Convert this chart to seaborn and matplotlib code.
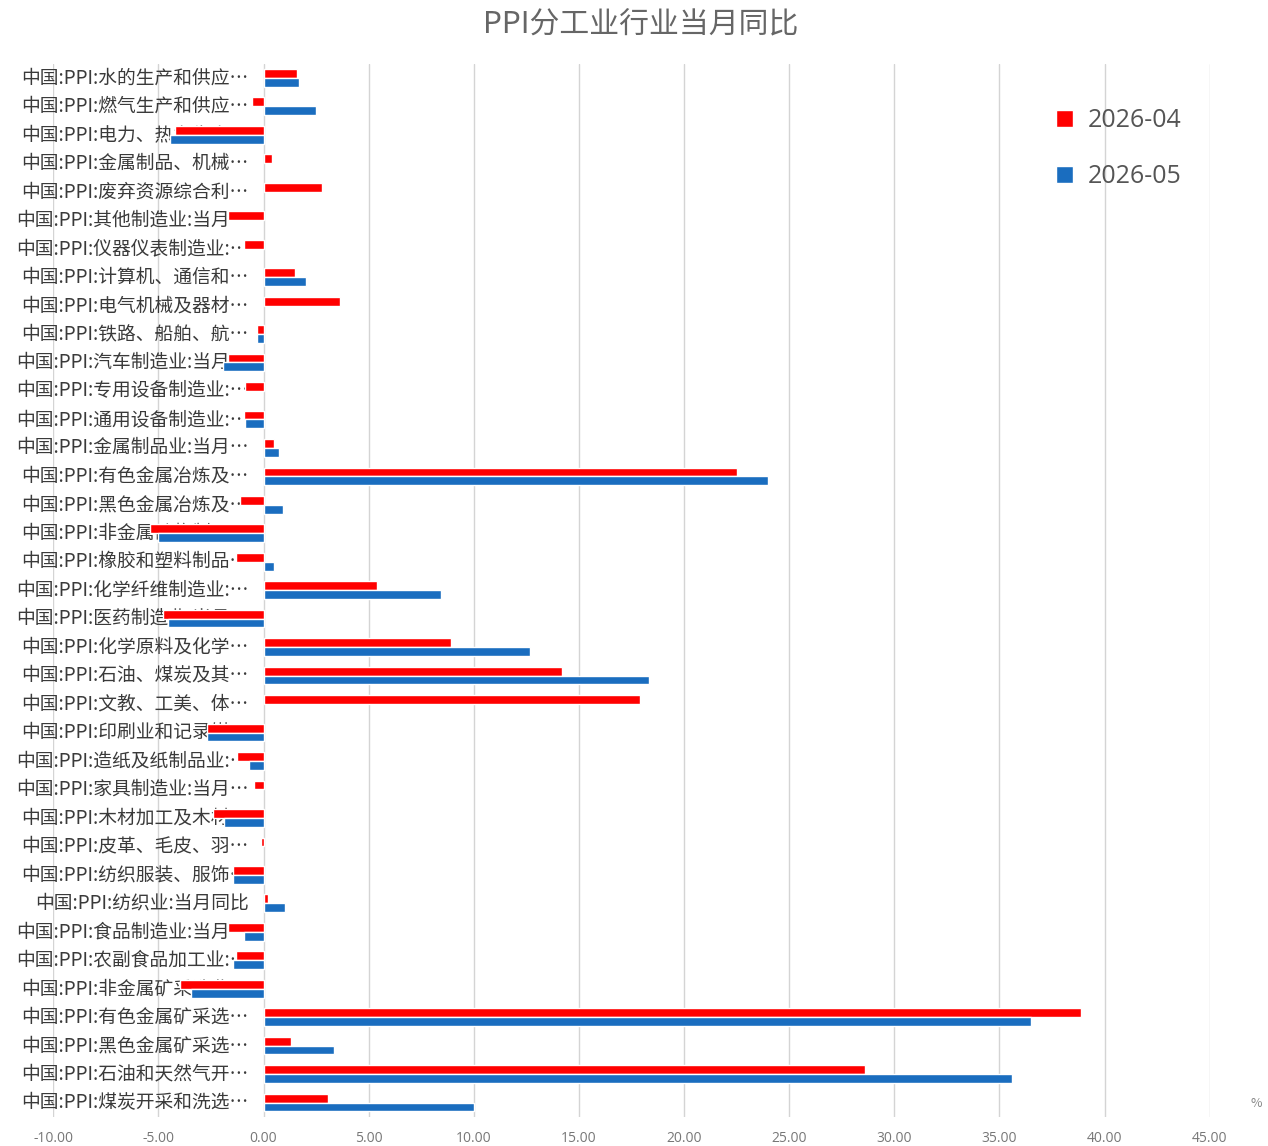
import numpy as np
import pandas as pd
import matplotlib
matplotlib.use("Agg")
import matplotlib.pyplot as plt
import seaborn as sns
from matplotlib.ticker import FormatStrFormatter, MultipleLocator

categories = [
    "中国:PPI:水的生产和供应…",
    "中国:PPI:燃气生产和供应…",
    "中国:PPI:电力、热力生产…",
    "中国:PPI:金属制品、机械…",
    "中国:PPI:废弃资源综合利…",
    "中国:PPI:其他制造业:当月…",
    "中国:PPI:仪器仪表制造业:…",
    "中国:PPI:计算机、通信和…",
    "中国:PPI:电气机械及器材…",
    "中国:PPI:铁路、船舶、航…",
    "中国:PPI:汽车制造业:当月…",
    "中国:PPI:专用设备制造业:…",
    "中国:PPI:通用设备制造业:…",
    "中国:PPI:金属制品业:当月…",
    "中国:PPI:有色金属冶炼及…",
    "中国:PPI:黑色金属冶炼及…",
    "中国:PPI:非金属矿物制品…",
    "中国:PPI:橡胶和塑料制品…",
    "中国:PPI:化学纤维制造业:…",
    "中国:PPI:医药制造业:当月…",
    "中国:PPI:化学原料及化学…",
    "中国:PPI:石油、煤炭及其…",
    "中国:PPI:文教、工美、体…",
    "中国:PPI:印刷业和记录媒…",
    "中国:PPI:造纸及纸制品业:…",
    "中国:PPI:家具制造业:当月…",
    "中国:PPI:木材加工及木材…",
    "中国:PPI:皮革、毛皮、羽…",
    "中国:PPI:纺织服装、服饰…",
    "中国:PPI:纺织业:当月同比",
    "中国:PPI:食品制造业:当月…",
    "中国:PPI:农副食品加工业:…",
    "中国:PPI:非金属矿采选业…",
    "中国:PPI:有色金属矿采选…",
    "中国:PPI:黑色金属矿采选…",
    "中国:PPI:石油和天然气开…",
    "中国:PPI:煤炭开采和洗选…",
]

series_names = ["2026-04", "2026-05"]

values_2026_04 = [
    1.57, -0.57, -4.2, 0.38, 2.8, -1.67, -0.95, 1.48, 3.62, -0.33,
    -1.7, -0.86, -0.95, 0.48, 22.5, -1.13, -5.4, -1.33, 5.38, -4.8,
    8.9, 14.2, 17.9, -2.67, -1.24, -0.43, -2.38, -0.14, -1.47, 0.19,
    -1.67, -1.33, -3.95, 38.9, 1.33, 28.6, 3.05,
]

values_2026_05 = [
    1.67, 2.48, -4.45, np.nan, np.nan, np.nan, np.nan, 2.04, np.nan, -0.3,
    -1.95, np.nan, -0.9, 0.74, 24.0, 0.93, -5.0, 0.48, 8.46, -4.55,
    12.67, 18.35, np.nan, -2.7, -0.7, np.nan, -1.9, np.nan, -1.43, 1.0,
    -0.95, -1.43, -3.43, 36.5, 3.33, 35.6, 10.0,
]

x_ticks = [-10, -5, 0, 5, 10, 15, 20, 25, 30, 35, 40, 45]

df = pd.DataFrame({
    "行业": categories * 2,
    "月份": [series_names[0]] * len(categories) + [series_names[1]] * len(categories),
    "同比": values_2026_04 + values_2026_05,
})

sns.set_theme(style="white")
plt.rcParams["font.family"] = ["Noto Sans CJK SC", "DejaVu Sans"]

fig = plt.figure(figsize=(12.68, 11.46), dpi=100)
ax = fig.add_axes([0.042, 0.0255, 0.912, 0.919])

palette = {"2026-04": "#ff0000", "2026-05": "#1a6dbf"}
sns.barplot(
    data=df, y="行业", x="同比", hue="月份", hue_order=series_names,
    order=categories, palette=palette, orient="h", width=0.62,
    saturation=1, errorbar=None, ax=ax, zorder=2,
)

ax.set_xlim(x_ticks[0], x_ticks[-1])
ax.xaxis.set_major_locator(MultipleLocator(5))
ax.xaxis.set_major_formatter(FormatStrFormatter("%.2f"))
ax.set_ylim(len(categories) - 0.5, -0.5)

ax.set_axisbelow(True)
ax.grid(axis="x", color="#d4d4d4", linewidth=1.0, zorder=0)
ax.grid(axis="y", visible=False)
for s in ax.spines.values():
    s.set_visible(False)

ax.set_xlabel("")
ax.set_ylabel("")
ax.tick_params(axis="y", left=False, labelleft=False)
ax.tick_params(axis="x", bottom=False, labelsize=10, labelcolor="#777777", pad=4)
for lbl in ax.get_xticklabels():
    lbl.set_fontfamily(["Open Sans", "DejaVu Sans"])

# category names sit just left of the zero line, underneath the bars
for ypos, name in zip(ax.get_yticks(), categories):
    ax.text(-0.7, ypos, name, ha="right", va="center", fontsize=13.5,
            color="#3a3a3a", zorder=1)

leg = ax.legend(
    loc="upper right", bbox_to_anchor=(0.995, 0.979), frameon=False,
    fontsize=18, handlelength=0.65, handleheight=0.65, handletextpad=0.6,
    labelspacing=1.25,
)
for t in leg.get_texts():
    t.set_color("#555555")
    t.set_fontfamily(["Open Sans", "DejaVu Sans"])

fig.text(0.505, 0.978, "PPI分工业行业当月同比", ha="center", va="center",
         fontsize=21.5, color="#666666")
fig.text(0.995, 0.037, "%", ha="right", va="center", fontsize=9,
         color="#888888")

fig.savefig("out.png", dpi=100)
